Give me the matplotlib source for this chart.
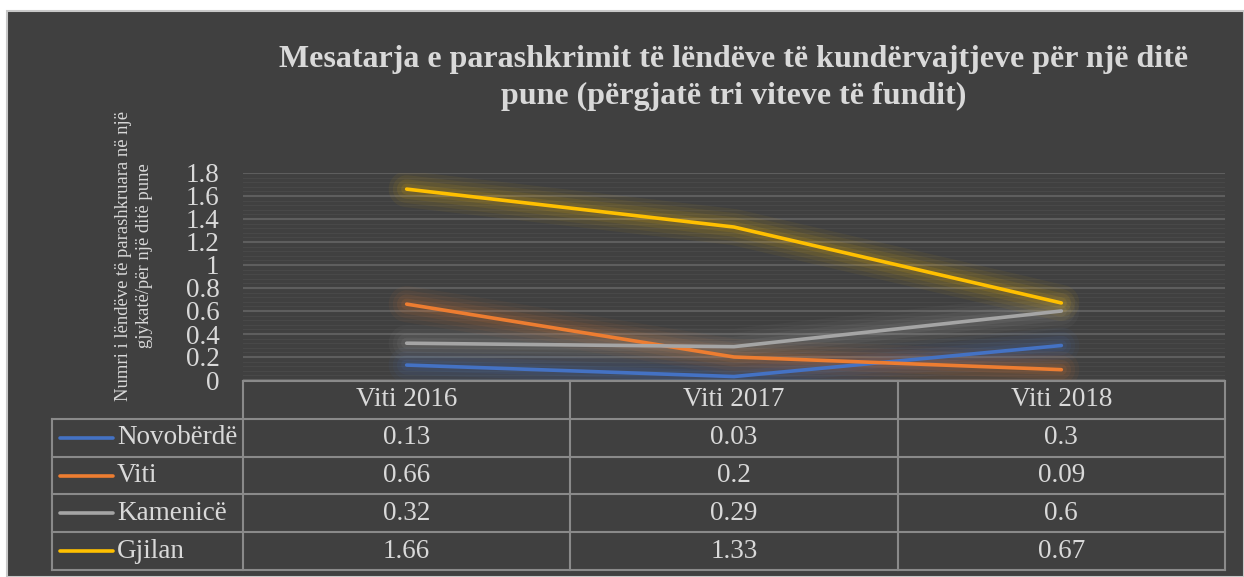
import matplotlib
matplotlib.use("Agg")
import matplotlib.pyplot as plt
from matplotlib.patches import Rectangle

years = ["Viti 2016", "Viti 2017", "Viti 2018"]
series_names = ["Novobërdë", "Viti", "Kamenicë", "Gjilan"]
novoberde = [0.13, 0.03, 0.3]
viti = [0.66, 0.2, 0.09]
kamenice = [0.32, 0.29, 0.6]
gjilan = [1.66, 1.33, 0.67]
colors = ["#4472C4", "#ED7D31", "#A5A5A5", "#FFC000"]
y_ticks = [0, 0.2, 0.4, 0.6, 0.8, 1, 1.2, 1.4, 1.6, 1.8]

title = "Mesatarja e parashkrimit të lëndëve të kundërvajtjeve për një ditë\npune (përgjatë tri viteve të fundit)"
y_label = "Numri i lëndëve të parashkruara në një\ngjykatë/për një ditë pune"

BG = "#404040"
TXT = "#d9d9d9"
GRID = "#5e5e5e"
BORDER = "#8a8a8a"

plt.rcParams["font.family"] = ["Liberation Serif", "DejaVu Serif"]

W, H = 1244, 577
fig = plt.figure(figsize=(W / 100, H / 100), dpi=100)
fig.patch.set_facecolor("white")
fig.patches.append(Rectangle((7 / W, 0), 1 - 7 / W, 1 - 11 / H, transform=fig.transFigure,
                             facecolor=BG, edgecolor="#c8c8c8", linewidth=1.5, zorder=-10))

# main plot area
ax = fig.add_axes([243 / W, (H - 380) / H, (1225 - 243) / W, (380 - 173) / H])
ax.set_facecolor("none")
ax.set_xlim(0, 3)
ax.set_ylim(0, 1.8)
for s in ax.spines.values():
    s.set_visible(False)
ax.set_xticks([])
ax.set_yticks(y_ticks)
ax.set_yticklabels([f"{v:g}" for v in y_ticks])
ax.tick_params(axis="y", length=0, pad=17, labelsize=19.5, labelcolor=TXT)
ax.set_yticks([i * 0.04 for i in range(46)], minor=True)
ax.tick_params(axis="y", which="minor", length=0)
ax.grid(axis="y", which="minor", color="#484848", linewidth=0.8)
ax.grid(axis="y", which="major", color=GRID, linewidth=1.5)
ax.set_axisbelow(True)

# lines with a soft glow underneath
xs = [0.5, 1.5, 2.5]
for vals, c in zip([novoberde, viti, kamenice, gjilan], colors):
    for lw, a in [(26, 0.05), (20, 0.06), (14, 0.08), (8, 0.1)]:
        ax.plot(xs, vals, color=c, linewidth=lw, alpha=a, solid_capstyle="round",
                solid_joinstyle="round", zorder=2)
for vals, c in zip([novoberde, viti, kamenice, gjilan], colors):
    ax.plot(xs, vals, color=c, linewidth=2.6, solid_capstyle="round", zorder=3)

fig.text(734 / W, (H - 78) / H, title, ha="center", va="center", fontsize=23,
         fontweight="bold", color=TXT, linespacing=1.32)
fig.text(134 / W, (H - 256) / H, y_label, rotation=90, ha="center", va="center",
         fontsize=13.4, color=TXT, multialignment="center", linespacing=1.25)

# data table
x0 = (243 - 52) / ((1225 - 243) / 3)
tax = fig.add_axes([52 / W, (H - 570) / H, (1225 - 52) / W, (570 - 381) / H])
tax.set_facecolor("none")
tax.set_xlim(-x0, 3)
tax.set_ylim(5, 0)
tax.axis("off")

lk = dict(color=BORDER, linewidth=1.5, clip_on=False)
tax.plot([0, 3], [0, 0], **lk)
for r in range(1, 6):
    tax.plot([-x0, 3], [r, r], **lk)
for cx in [1, 2, 3]:
    tax.plot([cx, cx], [0, 5], **lk)
tax.plot([0, 0], [0, 5], **lk)
tax.plot([-x0, -x0], [1, 5], **lk)

for j, yr in enumerate(years):
    tax.text(j + 0.5, 0.5, yr, ha="center", va="center", fontsize=19.5, color=TXT)

key_w = (113 - 60) / ((1225 - 243) / 3)
key_l = -x0 + (60 - 52) / ((1225 - 243) / 3)
for i, (name, vals, c) in enumerate(zip(series_names, [novoberde, viti, kamenice, gjilan], colors)):
    r = i + 1.5
    tax.plot([key_l, key_l + key_w], [r, r], color=c, linewidth=2.6, solid_capstyle="round")
    tax.text(key_l + key_w + 0.012, r, name, ha="left", va="center", fontsize=19.5, color=TXT)
    for j, v in enumerate(vals):
        tax.text(j + 0.5, r, f"{v:g}", ha="center", va="center", fontsize=19.5, color=TXT)

fig.savefig("out.png", dpi=100)
